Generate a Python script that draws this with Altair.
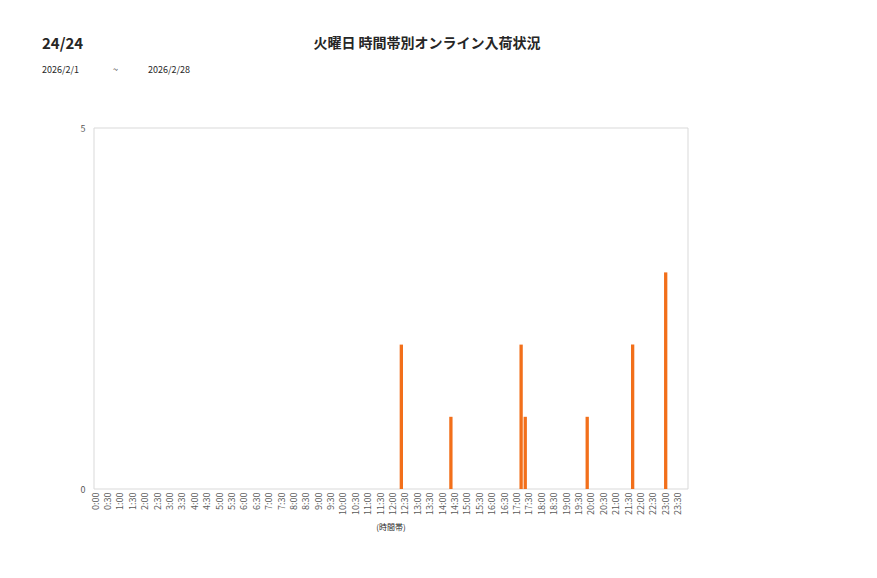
import altair as alt
import pandas as pd

# 10-minute slots across the day
slots = [f"{h}:{m:02d}" for h in range(24) for m in range(0, 60, 10)]
tick_labels = [f"{h}:{m:02d}" for h in range(24) for m in (0, 30)]

times = ["12:20", "14:20", "17:10", "17:20", "19:50", "21:40", "23:00"]
counts = [2, 1, 2, 1, 1, 2, 3]

data = pd.DataFrame({"slot": times, "count": counts})

W, H = 594, 361
FONT = "Noto Sans CJK JP"

bars = alt.Chart(data).mark_bar(color="#F26F1A").encode(
    x=alt.X("slot:O", title=None,
            scale=alt.Scale(domain=slots, paddingInner=0.2, paddingOuter=0),
            axis=alt.Axis(values=tick_labels, labelAngle=270, labelFontSize=9,
                          labelColor="#595959", labelFont=FONT, ticks=False,
                          domain=False, labelPadding=3)),
    y=alt.Y("count:Q", title=None,
            scale=alt.Scale(domain=[0, 5]),
            axis=alt.Axis(values=[0, 5], grid=False, ticks=False, domain=False,
                          labelFontSize=9, labelColor="#595959", labelFont=FONT,
                          labelPadding=9))
)

def label(txt, x, y, size, weight="normal", align="left"):
    return alt.Chart(pd.DataFrame({"t": [txt]})).mark_text(
        align=align, baseline="middle", fontSize=size, fontWeight=weight,
        font=FONT, color="#262626"
    ).encode(text="t:N", x=alt.value(x), y=alt.value(y))

frame = alt.Chart(pd.DataFrame({"a": [0]})).mark_rect(
    fill=None, stroke="#D9D9D9", strokeWidth=1
).encode(x=alt.value(0), x2=alt.value(W), y=alt.value(0), y2=alt.value(H))

chart = alt.layer(
    frame,
    bars,
    label("24/24", -52, -84, 15, "bold"),
    label("火曜日 時間帯別オンライン入荷状況", 333, -84, 14, "bold", "center"),
    label("2026/2/1", -52, -58, 9),
    label("~", 19, -58, 9),
    label("2026/2/28", 54, -58, 9),
    label("(時間帯)", 297, 400, 8, "normal", "center"),
).properties(
    width=W, height=H,
    autosize=alt.AutoSizeParams(type="none"),
    padding={"left": 86, "top": 120, "right": 180, "bottom": 60}
).configure_view(stroke=None)

chart.save("out.html", embed_options={"renderer": "svg", "actions": False})
